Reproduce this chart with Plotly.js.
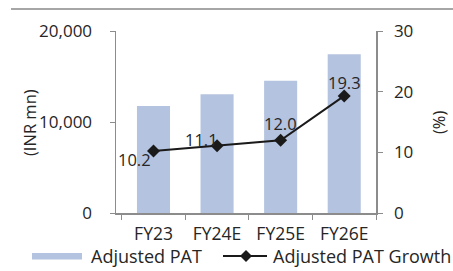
<!DOCTYPE html>
<html>
<head>
<meta charset="utf-8">
<script src="https://cdn.plot.ly/plotly-3.0.1.min.js"></script>
<style>html,body{margin:0;padding:0;background:#fff;}#chart{width:453px;height:271px;}</style>
</head>
<body>
<div id="chart"></div>
<script>
const categories = ["FY23", "FY24E", "FY25E", "FY26E"];
const adjustedPat = [11760, 13040, 14540, 17440];
const patGrowth = [10.2, 11.1, 12.0, 19.3];
const growthLabels = ["10.2", "11.1", "12.0", "19.3"];
const leftTicks = [0, 10000, 20000];
const rightTicks = [0, 10, 20, 30];
const seriesNames = ["Adjusted PAT", "Adjusted PAT Growth"];
const axisTitles = ["(INR mn)", "(%)"];

const FONT = "Open Sans, sans-serif";
const TXT = "#262626";
const AX = "#8c8c8c";
const BAR = "#b4c3df";
const LINE = "#1a1a1a";
const FS = 16.5;
const FSL = 18;

// plot area in px: left 116, right 376, top 31, bottom 213
const PL = 116, PW = 260, PB = 213, PH = 182;
const px = v => (v - PL) / PW;
const py = v => (PB - v) / PH;

const labelShift = [[-19, -8], [-16, 6], [0, 17], [0, 13]];

const traces = [
  {
    type: "bar", name: seriesNames[0], x: categories, y: adjustedPat,
    marker: {color: BAR}, yaxis: "y", hoverinfo: "skip", showlegend: false
  },
  {
    type: "scatter", mode: "lines+markers", name: seriesNames[1],
    x: categories, y: patGrowth, yaxis: "y2", showlegend: false,
    line: {color: LINE, width: 2},
    marker: {symbol: "diamond", size: 10, color: LINE}
  }
];

const annotations = categories.map((c, i) => ({
  x: c, y: patGrowth[i], xref: "x", yref: "y2", text: growthLabels[i],
  showarrow: false, xshift: labelShift[i][0], yshift: labelShift[i][1],
  font: {family: FONT, size: FS, color: TXT}
}));
// custom legend texts
annotations.push(
  {x: px(89), y: py(256), xref: "paper", yref: "paper", xanchor: "left", yanchor: "middle",
   text: seriesNames[0], showarrow: false, font: {family: FONT, size: FSL, color: TXT}},
  {x: px(271), y: py(256), xref: "paper", yref: "paper", xanchor: "left", yanchor: "middle",
   text: seriesNames[1], showarrow: false, font: {family: FONT, size: FSL, color: TXT}},
  // axis titles
  {x: px(29), y: py(123), xref: "paper", yref: "paper", xanchor: "center", yanchor: "middle",
   text: axisTitles[0], textangle: -90, showarrow: false, font: {family: FONT, size: FS, color: TXT}},
  {x: px(438), y: py(122), xref: "paper", yref: "paper", xanchor: "center", yanchor: "middle",
   text: axisTitles[1], textangle: -90, showarrow: false, font: {family: FONT, size: FS, color: TXT}}
);

const dx = 6 / PW, dy = 6 / PH;
const layout = {
  width: 453, height: 271,
  margin: {l: 116, r: 77, t: 31, b: 58, autoexpand: false},
  paper_bgcolor: "#fff", plot_bgcolor: "#fff",
  font: {family: FONT, size: FS, color: TXT},
  bargap: 0.48,
  showlegend: false,
  xaxis: {
    type: "category", showline: true, linecolor: AX, linewidth: 1.5,
    ticks: "outside", ticklen: 5, tickcolor: AX, tickson: "boundaries",
    ticklabelstandoff: 4, tickfont: {family: FONT, size: 17.5, color: TXT},
    showgrid: false, zeroline: false, fixedrange: true
  },
  yaxis: {
    range: [0, 20000], tickvals: leftTicks, tickformat: ",d",
    showline: true, linecolor: AX, linewidth: 1.5,
    ticks: "outside", ticklen: 5, tickcolor: AX, ticklabelstandoff: 14,
    tickfont: {family: FONT, size: 17, color: TXT},
    showgrid: false, zeroline: false, automargin: false
  },
  yaxis2: {
    range: [0, 30], tickvals: rightTicks, overlaying: "y", side: "right",
    showline: true, linecolor: AX, linewidth: 1.5,
    ticks: "outside", ticklen: 5, tickcolor: AX, ticklabelstandoff: 8,
    tickfont: {family: FONT, size: 17, color: TXT},
    showgrid: false, zeroline: false, automargin: false
  },
  shapes: [
    {type: "line", xref: "paper", yref: "paper", x0: px(11), x1: px(453), y0: py(9), y1: py(9),
     line: {color: "#a6a6a6", width: 2}},
    // legend: bar swatch
    {type: "rect", xref: "paper", yref: "paper", x0: px(32), x1: px(82), y0: py(259.5), y1: py(253),
     fillcolor: BAR, line: {width: 0}},
    // legend: line + diamond
    {type: "line", xref: "paper", yref: "paper", x0: px(223), x1: px(267), y0: py(256), y1: py(256),
     line: {color: LINE, width: 2}},
    {type: "path", xref: "paper", yref: "paper",
     path: `M ${px(246) - dx} ${py(256)} L ${px(246)} ${py(256) + dy} L ${px(246) + dx} ${py(256)} L ${px(246)} ${py(256) - dy} Z`,
     fillcolor: LINE, line: {width: 0}}
  ],
  annotations: annotations
};

Plotly.newPlot("chart", traces, layout, {displayModeBar: false, staticPlot: true});
</script>
</body>
</html>
